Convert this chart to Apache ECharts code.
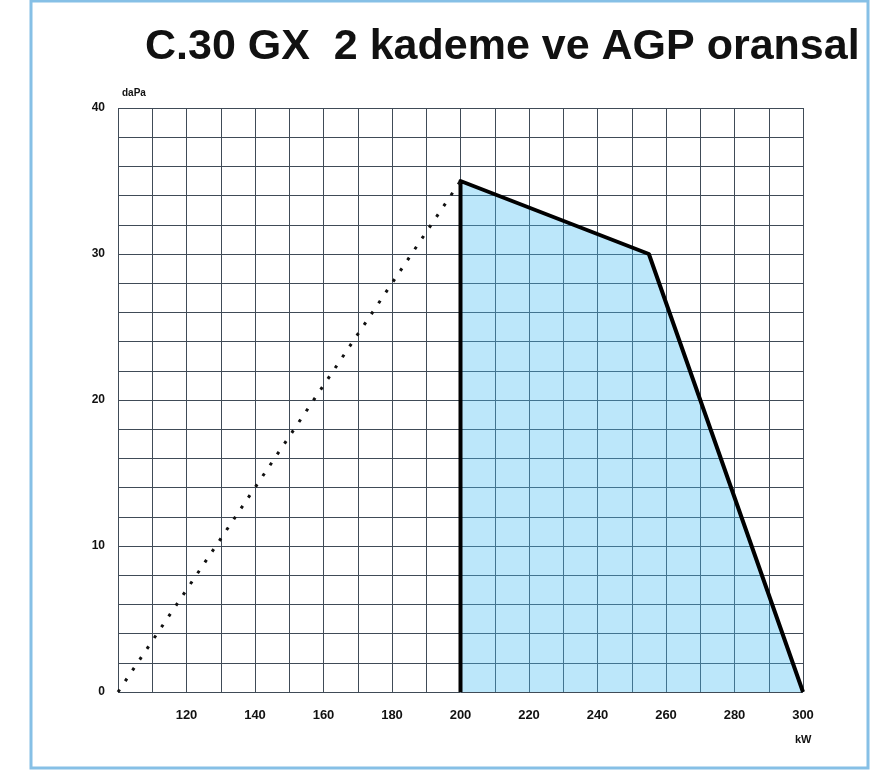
<!DOCTYPE html>
<html>
<head>
<meta charset="utf-8">
<script src="https://cdn.jsdelivr.net/npm/echarts@6/dist/echarts.min.js"></script>
<style>
  html, body { margin: 0; padding: 0; background: #fff; }
  #chart { width: 890px; height: 773px; }
</style>
</head>
<body>
<div id="chart"></div>
<script>
// working range outline (kW, daPa)
const rangeKW = [200, 200, 255, 300]
const rangeDaPa = [0, 35, 30, 0]
// dotted 1st stage line
const stageKW = [100, 200]
const stageDaPa = [0, 35]
// tick labels shown
const xTickLabels = [120, 140, 160, 180, 200, 220, 240, 260, 280, 300]
const yTickLabels = [0, 10, 20, 30, 40]

const zip = (a, b) => a.map((v, i) => [v, b[i]])

const labelFont = {
  color: '#111',
  fontWeight: 'bold',
  fontFamily: 'Liberation Sans Narrow, Liberation Sans, sans-serif'
}

const myChart = echarts.init(document.getElementById('chart'))
myChart.setOption({
  animation: false,
  title: {
    text: 'C.30 GX  2 kademe ve AGP oransal',
    left: 140,
    top: 21,
    textStyle: {
      fontSize: 43,
      fontWeight: 'bold',
      color: '#111',
      fontFamily: 'Liberation Sans, Arial, sans-serif'
    }
  },
  graphic: [
    {
      // light blue frame
      type: 'rect',
      shape: { x: 31, y: 1, width: 837, height: 767 },
      style: { fill: null, stroke: '#86c0e6', lineWidth: 3 }
    },
    {
      type: 'text',
      left: 122,
      top: 88,
      style: Object.assign({ text: 'daPa', fontSize: 10 }, labelFont, { fill: '#111' })
    },
    {
      type: 'text',
      left: 795,
      top: 734,
      style: Object.assign({ text: 'kW', fontSize: 11 }, labelFont, { fill: '#111' })
    }
  ],
  grid: {
    left: 118,
    right: 87,
    top: 108,
    bottom: 81
  },
  xAxis: {
    type: 'value',
    min: 100,
    max: 300,
    interval: 10,
    axisLine: { show: false },
    axisTick: { show: false },
    splitLine: { show: true, lineStyle: { color: '#404b57', width: 1 } },
    axisLabel: Object.assign({
      fontSize: 13,
      margin: 17,
      formatter: v => (xTickLabels.includes(v) ? String(v) : '')
    }, labelFont)
  },
  yAxis: {
    type: 'value',
    min: 0,
    max: 40,
    interval: 2,
    axisLine: { show: false },
    axisTick: { show: false },
    splitLine: { show: true, lineStyle: { color: '#404b57', width: 1 } },
    axisLabel: Object.assign({
      fontSize: 12,
      margin: 13,
      formatter: v => (yTickLabels.includes(v) ? String(v) : '')
    }, labelFont)
  },
  series: [
    {
      type: 'line',
      data: zip(rangeKW, rangeDaPa),
      symbol: 'none',
      lineStyle: { color: '#000', width: 4, join: 'round' },
      areaStyle: { color: 'rgba(70, 190, 240, 0.52)', origin: 'start' },
      z: 3
    },
    {
      type: 'line',
      data: zip(stageKW, stageDaPa),
      symbol: 'none',
      lineStyle: { color: '#111', width: 3, type: [3, 10] },
      z: 3
    }
  ]
})
</script>
</body>
</html>
